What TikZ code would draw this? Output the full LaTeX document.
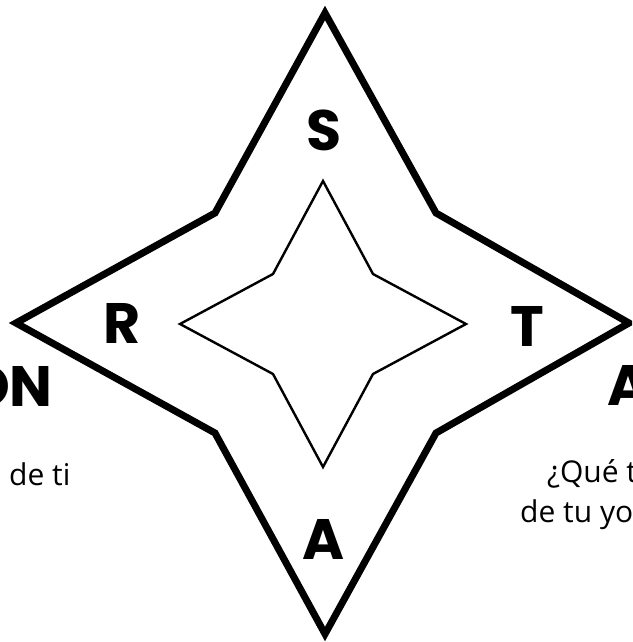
\documentclass[tikz,border=0pt]{standalone}
\usepackage{fontspec}
\usepackage{tikz}
\newfontfamily\letrafont{Poppins}
\newfontfamily\textofont{Open Sans}

\begin{document}
\begin{tikzpicture}[x=1pt,y=-1pt,line join=miter]

\tikzset{
grande/.style={
    line width=7pt
},
chica/.style={
    line width=2.4pt
},
letra/.style={
    inner sep=0pt,
    font=\letrafont\bfseries\fontsize{57}{57}\selectfont
},
texto/.style={
    inner sep=0pt,
    font=\textofont\fontsize{30}{30}\selectfont
}
}

\useasboundingbox (0,0) rectangle (632,642);
\clip (0,0) rectangle (632,642);

% estrella grande
\coordinate (g1) at (325,13);
\coordinate (g2) at (436,213);
\coordinate (g3) at (629,323);
\coordinate (g4) at (436,433);
\coordinate (g5) at (325,634);
\coordinate (g6) at (215,433);
\coordinate (g7) at (16,323);
\coordinate (g8) at (215,213);
\draw[grande] (g1) -- (g2) -- (g3) -- (g4) -- (g5) -- (g6) -- (g7) -- (g8) -- cycle;

% estrella chica
\coordinate (c1) at (323,181);
\coordinate (c2) at (373,274);
\coordinate (c3) at (466,324);
\coordinate (c4) at (373,374);
\coordinate (c5) at (323,467);
\coordinate (c6) at (273,374);
\coordinate (c7) at (180,324);
\coordinate (c8) at (273,274);
\draw[chica] (c1) -- (c2) -- (c3) -- (c4) -- (c5) -- (c6) -- (c7) -- (c8) -- cycle;

\node[letra] (s) at (324,130) {S};
\node[letra] (r) at (122,323) {R};
\node[letra] (t) at (527,326) {T};
\node[letra] (a) at (324,539) {A};

\node[letra,anchor=base east] (izq) at (53,406) {ON};
\node[letra,anchor=base west] (der) at (607,405) {A};

\node[texto,anchor=base west] (izqtexto) at (9,485) {de ti};
\node[texto,anchor=base west] (dertexto1) at (547,482) {¿Qué t};
\node[texto,anchor=base west] (dertexto2) at (520,522) {de tu yo};

\end{tikzpicture}
\end{document}
